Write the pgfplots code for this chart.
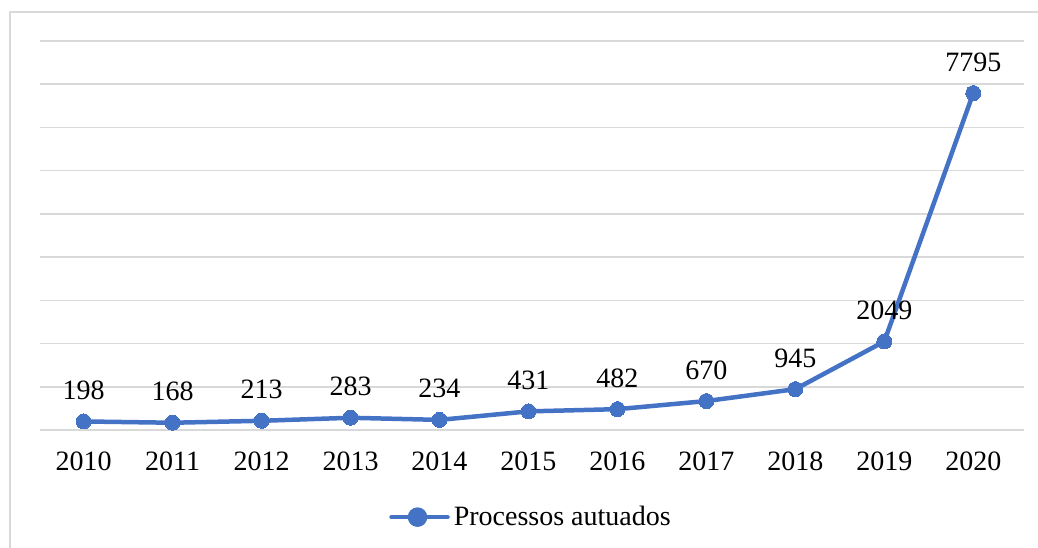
\documentclass[border=0pt]{standalone}
\usepackage{pgfplots}
\pgfplotsset{compat=1.18}
\usepackage{fontspec}
\setmainfont{Liberation Serif}
\definecolor{exblue}{HTML}{4472C4}
\definecolor{gridgray}{HTML}{D9D9D9}
\begin{document}
\begin{tikzpicture}
\useasboundingbox (0,0) rectangle (519pt,273.5pt);
\draw[gridgray, line width=0.8pt] (5pt,-10pt) -- (5pt,267.5pt) -- (540pt,267.5pt);
\begin{axis}[
  at={(20pt,58.5pt)}, anchor=south west,
  scale only axis, width=492pt, height=194.5pt,
  xmin=-0.49, xmax=10.57, ymin=0, ymax=9000,
  xtick={0,...,10},
  xticklabels={2010,2011,2012,2013,2014,2015,2016,2017,2018,2019,2020},
  ytick={0,1000,...,9000}, yticklabels={},
  ymajorgrids, grid style={draw=gridgray, line width=0.75pt},
  axis line style={draw=none}, major tick length=0pt,
  tick label style={font=\fontsize{14}{16}\selectfont},
  xticklabel style={yshift=-7.5pt},
  /pgf/number format/assume math mode=true,
  /pgf/number format/1000 sep={},
  nodes near coords, point meta=y,
  every node near coord/.append style={font=\fontsize{14}{16}\selectfont, yshift=7.5pt, text=black},
  legend style={at={(0.5,-0.224)}, anchor=center, draw=none, font=\fontsize{14}{16}\selectfont, inner sep=0pt},
  legend image code/.code={\draw[#1, line width=2.25pt, line cap=round] (0pt,0pt) -- (28pt,0pt); \fill[exblue] (13pt,0pt) circle (3.75pt);},
  legend cell align=left,
]
\addplot[exblue, line width=2.25pt, line join=round, mark=*, mark size=3.75pt, mark options={fill=exblue, draw=exblue, line width=0pt}]
coordinates {(0,198) (1,168) (2,213) (3,283) (4,234) (5,431) (6,482) (7,670) (8,945) (9,2049) (10,7795)};
\addlegendentry{Processos autuados}
\end{axis}
\end{tikzpicture}
\end{document}
